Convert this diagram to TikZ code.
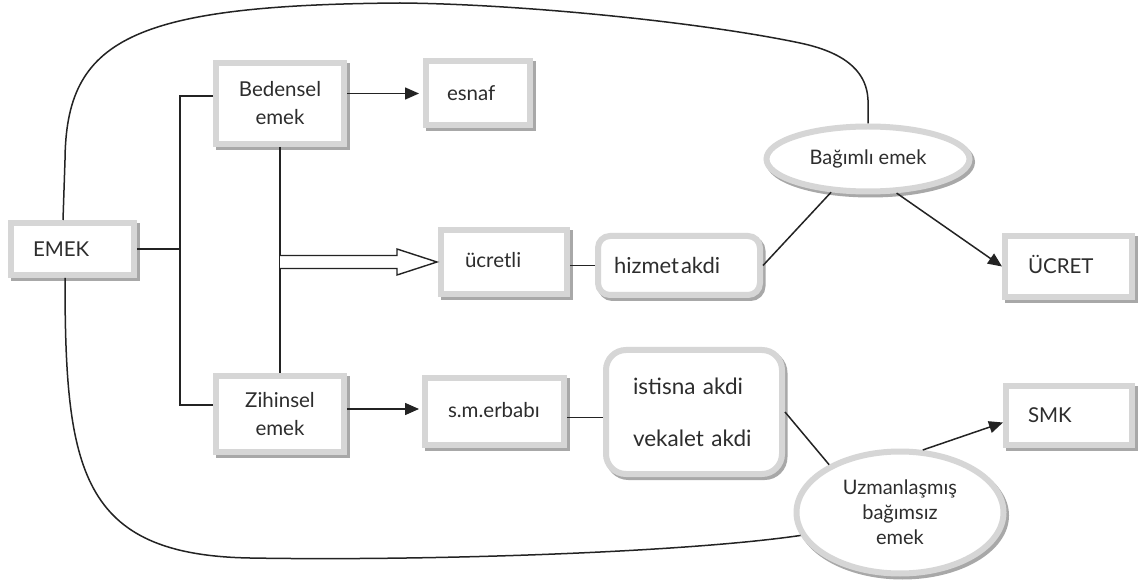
\documentclass[tikz,border=0pt]{standalone}
\usepackage{fontspec}
\setmainfont{Lato}
\usetikzlibrary{shapes.geometric,arrows.meta,shadows,calc}
\definecolor{bord}{RGB}{214,214,214}
\definecolor{shad}{RGB}{168,168,168}
\definecolor{ink}{RGB}{35,35,35}
\definecolor{txt}{RGB}{45,45,45}
\begin{document}
\begin{tikzpicture}[x=1pt,y=-1pt,
  frame/.style={draw=bord, line width=6pt, fill=white, inner sep=0pt, text=txt,
    drop shadow={shadow xshift=2.5pt, shadow yshift=-3pt, draw=shad, fill=shad, line width=6pt, opacity=1}},
  fbox/.style={frame, rectangle},
  rbox/.style={frame, rectangle, rounded corners=#1},
  obox/.style={frame, ellipse},
  big/.style={font=\fontsize{20.5}{28}\selectfont},
  conn/.style={draw=ink, line width=1.5pt},
  arr/.style={conn, -{Triangle[length=14pt,width=12pt]}},
  hollow/.style={draw=ink, line width=1.4pt, fill=white, line join=miter},
]
\useasboundingbox (0,0) rectangle (1141,585);
\fill[white] (0,0) rectangle (1141,585);

% nodes
\node[fbox, big, minimum width=123pt, minimum height=52pt, text width=79pt, align=left] (emek) at (72.5,249) {EMEK};
\node[fbox, big, minimum width=128pt, minimum height=81pt, align=center] (bedensel) at (280,103.5) {Bedensel\\emek};
\node[fbox, big, minimum width=128pt, minimum height=76pt, align=center] (zihinsel) at (280,414) {Zihinsel\\emek};
\node[fbox, big, minimum width=104pt, minimum height=64pt, text width=62pt, align=left] (esnaf) at (478,93) {esnaf};
\node[fbox, big, minimum width=126pt, minimum height=64pt, text width=78pt, align=left] (ucretli) at (504,262) {\raisebox{5pt}{ücretli}};
\node[rbox=12pt, font=\fontsize{22}{26}\selectfont, minimum width=162pt, minimum height=59pt, text width=130pt, align=left] (hizmet) at (679,265.5) {hizmet\kern2pt akdi};
\node[fbox, big, minimum width=127pt, minimum height=61pt, text width=81pt, align=left] (ucret) at (1068.5,266.5) {\raisebox{4pt}{ÜCRET}};
\node[fbox, big, minimum width=126pt, minimum height=59pt, text width=82pt, align=left] (smk) at (1069,415.5) {SMK};
\node[fbox, big, minimum width=139pt, minimum height=67pt, text width=93pt, align=left] (smerbabi) at (494.5,411.5) {\raisebox{4pt}{s.m.erbabı}};
\node[rbox=20pt, font=\fontsize{22.5}{25}\selectfont, minimum width=176pt, minimum height=124pt, text width=122pt, align=left] (istisna) at (694,412) {istisna akdi\\[27pt]vekalet akdi};
\node[obox, font=\fontsize{20}{22}\selectfont, minimum width=203pt, minimum height=65pt, align=center] (bagimli) at (868,159) {Bağımlı emek};
\node[obox, font=\fontsize{20}{25}\selectfont, minimum width=207pt, minimum height=122pt, align=center] (uzman) at (900,512.5) {Uzmanlaşmış\\bağımsız\\emek};

% bracket from EMEK
\draw[conn] ([yshift=7.5pt]bedensel.west) -- ++(-33,0) |- ([yshift=9pt]zihinsel.west);
\draw[conn] (emek.east) -- ++(43,0);
% vertical between Bedensel and Zihinsel
\draw[conn] (bedensel.south) -- (zihinsel.north);
\coordinate (vmid) at (bedensel.south |- ucretli.west);
\coordinate (htip) at ([xshift=-1pt]ucretli.west);
\draw[hollow] ($(vmid)+(0,-6.5)$) -- ($(htip)+(-40,-6.5)$) -- ($(htip)+(-40,-13)$) -- (htip)
  -- ($(htip)+(-40,13)$) -- ($(htip)+(-40,6.5)$) -- ($(vmid)+(0,6.5)$);

% arrows and lines
\draw[arr, shorten >=4pt] ([yshift=10pt]bedensel.east) -- ([yshift=10pt]bedensel.east -| esnaf.west);
\draw[arr, shorten >=3pt] ([yshift=5pt]zihinsel.east) -- ([yshift=5pt]zihinsel.east -| smerbabi.west);
\draw[conn] (hizmet.west -| ucretli.east) -- (hizmet.west);
\draw[conn] ([yshift=-6pt]smerbabi.east) -- ([yshift=-6pt]smerbabi.east -| istisna.west);
\draw[conn] (hizmet.east) -- (bagimli.222);
\draw[arr] (bagimli.310) -- (ucret.west);
\draw[conn] (istisna.east) -- (uzman.146);
\draw[arr] (uzman.70) -- ([yshift=-7pt]smk.west);

% big curves
\draw[conn] (bagimli.north) -- (868,100) .. controls (867,75) and (850,53.5) .. (800,43)
  .. controls (700,22) and (520,4) .. (400,3)
  .. controls (130,5) and (66,40) .. (65,160) -- ([xshift=-9.5pt]emek.north);
\draw[conn] ([xshift=-7.5pt]emek.south) .. controls (65,470) and (80,555) .. (250,558)
  .. controls (420,561) and (680,553) .. (uzman.193);
\end{tikzpicture}
\end{document}
